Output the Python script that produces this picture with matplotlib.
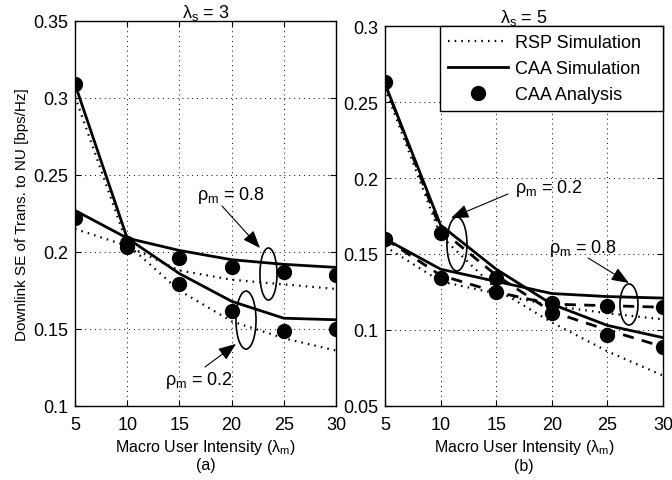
import matplotlib
matplotlib.use("Agg")
import matplotlib.pyplot as plt
from matplotlib.patches import Ellipse
from matplotlib.lines import Line2D
from matplotlib.ticker import FuncFormatter

plt.rcParams['font.family'] = ['Liberation Sans', 'DejaVu Sans']
plt.rcParams['mathtext.fontset'] = 'custom'
plt.rcParams['mathtext.rm'] = 'Liberation Sans'
plt.rcParams['mathtext.it'] = 'Liberation Sans'

lam = [5, 10, 15, 20, 25, 30]

# Panel (a): lambda_s = 3
rsp_a_02 = [0.301, 0.205, 0.175, 0.155, 0.144, 0.136]
rsp_a_08 = [0.215, 0.204, 0.188, 0.182, 0.179, 0.176]
sim_a_02 = [0.309, 0.209, 0.186, 0.168, 0.157, 0.156]
sim_a_08 = [0.227, 0.209, 0.201, 0.195, 0.192, 0.190]
ana_a_02 = [0.309, 0.203, 0.179, 0.162, 0.149, 0.150]
ana_a_08 = [0.222, 0.206, 0.196, 0.190, 0.187, 0.185]

# Panel (b): lambda_s = 5
rsp_b_02 = [0.259, 0.162, 0.127, 0.105, 0.086, 0.070]
rsp_b_08 = [0.155, 0.132, 0.124, 0.116, 0.111, 0.107]
sim_b_02 = [0.262, 0.169, 0.140, 0.117, 0.103, 0.095]
sim_b_08 = [0.160, 0.140, 0.132, 0.124, 0.122, 0.121]
dash_b_02 = [0.262, 0.166, 0.136, 0.112, 0.100, 0.089]
dash_b_08 = [0.160, 0.136, 0.125, 0.117, 0.116, 0.115]
ana_b_02 = [0.263, 0.164, 0.134, 0.111, 0.097, 0.089]
ana_b_08 = [0.160, 0.134, 0.125, 0.118, 0.116, 0.115]

yticks_a = [0.1, 0.15, 0.2, 0.25, 0.3, 0.35]
yticks_b = [0.05, 0.1, 0.15, 0.2, 0.25, 0.3]
xticks = [5, 10, 15, 20, 25, 30]

fig = plt.figure(figsize=(6.72, 4.81), dpi=100)
axA = fig.add_axes([75/672, 1-407/481, 261/672, 385/481])
axB = fig.add_axes([385/672, 1-407/481, 278/672, 380/481])

FS = 13
dotted = dict(color='black', lw=1.6, linestyle=(0, (0.7, 2.3)))
solid = dict(color='black', lw=2.0, linestyle='-')
dashed = dict(color='black', lw=2.0, linestyle=(0, (4, 3)))
mark = dict(color='black', linestyle='none', marker='o', markersize=10)
arrow = dict(arrowstyle='-|>,head_length=0.9,head_width=0.35', color='black', lw=0.8,
             shrinkA=0, shrinkB=0, mutation_scale=12)

fmt = FuncFormatter(lambda v, p: ('%g' % round(v, 3)))

def style(ax, yt, ylim):
    ax.set_xlim(5, 30)
    ax.set_ylim(*ylim)
    ax.set_xticks(xticks)
    ax.set_yticks(yt)
    ax.yaxis.set_major_formatter(fmt)
    ax.tick_params(direction='in', top=True, right=True, labelsize=FS, length=4, pad=5)
    ax.tick_params(axis='x', pad=7)
    ax.grid(True, color='black', linestyle=(0, (1, 4)), lw=0.7)
    for s in ax.spines.values():
        s.set_linewidth(1.0)

# Panel (a)
axA.plot(lam, rsp_a_02, **dotted)
axA.plot(lam, rsp_a_08, **dotted)
axA.plot(lam, sim_a_02, **solid)
axA.plot(lam, sim_a_08, **solid)
axA.plot(lam, ana_a_02, **mark)
axA.plot(lam, ana_a_08, **mark)
style(axA, yticks_a, (0.1, 0.35))
axA.set_title(r'λ$_\mathrm{s}$ = 3', fontsize=13, pad=3)
axA.set_xlabel(r'Macro User Intensity (λ$_\mathrm{m}$)', fontsize=11.5, labelpad=3)
axA.text(0.5, -0.133, '(a)', transform=axA.transAxes, ha='center', va='top', fontsize=11.5)
axA.set_ylabel('Downlink SE of Trans. to NU [bps/Hz]', fontsize=11, labelpad=3)

axA.add_patch(Ellipse((23.53, 0.1857), 1.63, 0.0338, fill=False, lw=1.2, color='black'))
axA.add_patch(Ellipse((21.38, 0.1558), 1.92, 0.0377, fill=False, lw=1.2, color='black'))
axA.text(19.9, 0.2375, r'ρ$_\mathrm{m}$ = 0.8', ha='center', va='center', fontsize=FS)
axA.annotate('', xy=(22.72, 0.2026), xytext=(19.08, 0.2299), arrowprops=arrow)
axA.text(16.9, 0.1175, r'ρ$_\mathrm{m}$ = 0.2', ha='center', va='center', fontsize=FS)
axA.annotate('', xy=(20.42, 0.1403), xytext=(17.45, 0.1253), arrowprops=arrow)

# Panel (b)
axB.plot(lam, rsp_b_02, **dotted)
axB.plot(lam, rsp_b_08, **dotted)
axB.plot(lam, dash_b_02, **dashed)
axB.plot(lam, dash_b_08, **dashed)
axB.plot(lam, sim_b_02, **solid)
axB.plot(lam, sim_b_08, **solid)
axB.plot(lam, ana_b_02, **mark)
axB.plot(lam, ana_b_08, **mark)
style(axB, yticks_b, (0.05, 0.3))
axB.set_title(r'λ$_\mathrm{s}$ = 5', fontsize=13, pad=3)
axB.set_xlabel(r'Macro User Intensity (λ$_\mathrm{m}$)', fontsize=11.5, labelpad=3)
axB.text(0.5, -0.137, '(b)', transform=axB.transAxes, ha='center', va='top', fontsize=11.5)

axB.add_patch(Ellipse((11.47, 0.1566), 1.8, 0.0355, fill=False, lw=1.2, color='black'))
axB.add_patch(Ellipse((26.94, 0.1168), 1.62, 0.027, fill=False, lw=1.2, color='black'))
axB.text(19.75, 0.194, r'ρ$_\mathrm{m}$ = 0.2', ha='center', va='center', fontsize=FS)
axB.annotate('', xy=(10.94, 0.1737), xytext=(16.06, 0.1895), arrowprops=arrow)
axB.text(22.8, 0.1546, r'ρ$_\mathrm{m}$ = 0.8', ha='center', va='center', fontsize=FS)
axB.annotate('', xy=(26.94, 0.1309), xytext=(23.26, 0.1474), arrowprops=arrow)

handles = [Line2D([], [], **dotted), Line2D([], [], **solid), Line2D([], [], **mark)]
labels = ['RSP Simulation', 'CAA Simulation', 'CAA Analysis']
leg = axB.legend(handles, labels, loc='upper right', fontsize=FS, fancybox=False,
                 framealpha=1, edgecolor='black', borderaxespad=0.0,
                 bbox_to_anchor=(0.198, 0.0, 0.802, 1.0), mode='expand',
                 handlelength=3.3, labelspacing=0.5, borderpad=0.45, handletextpad=0.4)
leg.get_frame().set_linewidth(1.0)

fig.savefig('out.png', dpi=100)
